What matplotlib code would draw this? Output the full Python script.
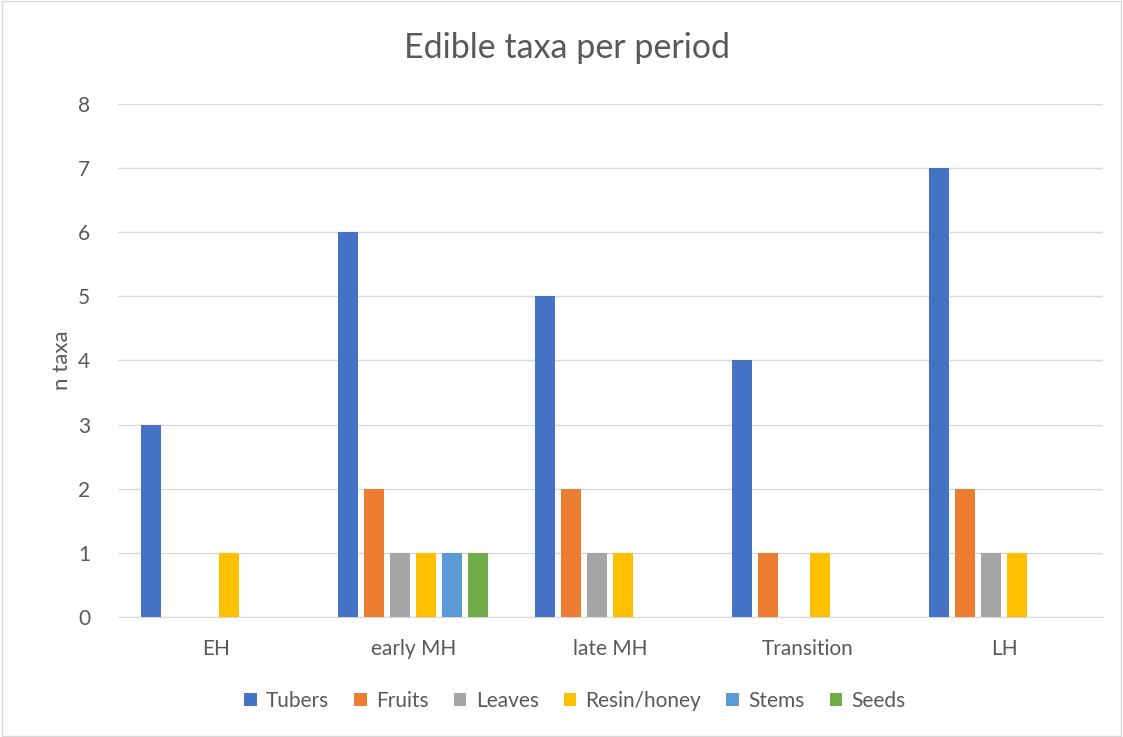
import numpy as np
import matplotlib.pyplot as plt
from matplotlib.patches import Rectangle

plt.rcParams['font.family'] = ['Lato', 'DejaVu Sans']

# data
periods = ["EH", "early MH", "late MH", "Transition", "LH"]
tubers = [3, 6, 5, 4, 7]
fruits = [0, 2, 2, 1, 2]
leaves = [0, 1, 1, 0, 1]
resin = [1, 1, 1, 1, 1]
stems = [0, 1, 0, 0, 0]
seeds = [0, 1, 0, 0, 0]

series = [
    ("Tubers", tubers, "#4472C4"),
    ("Fruits", fruits, "#ED7D31"),
    ("Leaves", leaves, "#A5A5A5"),
    ("Resin/honey", resin, "#FFC000"),
    ("Stems", stems, "#5B9BD5"),
    ("Seeds", seeds, "#70AD47"),
]

txt = "#595959"

fig = plt.figure(figsize=(11.23, 7.37), dpi=100)
ax = fig.add_axes([0.105, 0.163, 0.877, 0.696])

x = np.arange(len(periods))
step = 0.132
width = 0.1015
for i, (name, vals, col) in enumerate(series):
    ax.bar(x + (i - 2.5) * step, vals, width, color=col, label=name, zorder=3)

ax.set_xlim(-0.5, len(periods) - 0.5)
ax.set_ylim(0, 8)
ax.set_yticks(range(0, 9))
ax.set_xticks(x)
ax.set_xticklabels(periods)
ax.grid(axis="y", color="#D9D9D9", linewidth=1, zorder=0)
for s in ["top", "right", "left"]:
    ax.spines[s].set_visible(False)
ax.spines["bottom"].set_color("#D9D9D9")
ax.tick_params(axis="both", length=0, labelsize=15, colors=txt)
ax.tick_params(axis="x", pad=16)
ax.tick_params(axis="y", pad=20)

ax.set_ylabel("n taxa", fontsize=16, color=txt, labelpad=4)
fig.text(0.505, 0.935, "Edible taxa per period", ha="center", va="center",
         fontsize=24.5, color=txt)

fig.legend(loc="center", bbox_to_anchor=(0.512, 0.049), ncol=6, frameon=False,
           fontsize=15, labelcolor=txt, handlelength=0.6, handleheight=0.6,
           handletextpad=0.45, columnspacing=1.2)

fig.patches.append(Rectangle((0.002, 0.002), 0.996, 0.996, transform=fig.transFigure,
                             fill=False, edgecolor="#D9D9D9", linewidth=1))

fig.savefig("out.png", dpi=100)
